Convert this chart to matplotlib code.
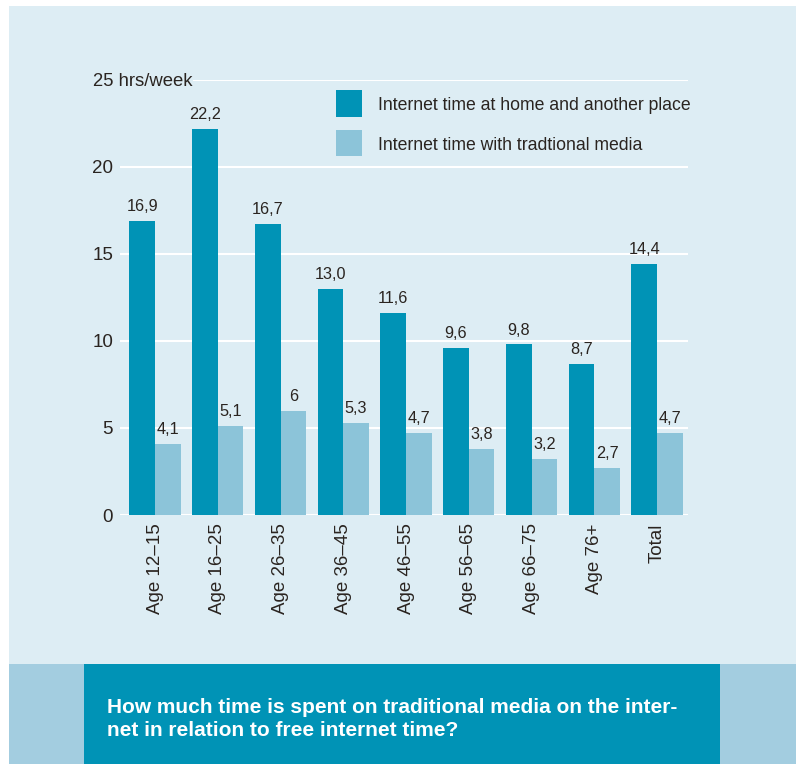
import numpy as np
import matplotlib
matplotlib.use('Agg')
import matplotlib.pyplot as plt
from matplotlib.patches import Rectangle

plt.rcParams['font.family'] = ['Liberation Sans', 'DejaVu Sans']

# data
groups = ['Age 12–15', 'Age 16–25', 'Age 26–35', 'Age 36–45', 'Age 46–55',
          'Age 56–65', 'Age 66–75', 'Age 76+', 'Total']
home_other = [16.9, 22.2, 16.7, 13.0, 11.6, 9.6, 9.8, 8.7, 14.4]
home_other_lbl = ['16,9', '22,2', '16,7', '13,0', '11,6', '9,6', '9,8', '8,7', '14,4']
trad_media = [4.1, 5.1, 6, 5.3, 4.7, 3.8, 3.2, 2.7, 4.7]
trad_media_lbl = ['4,1', '5,1', '6', '5,3', '4,7', '3,8', '3,2', '2,7', '4,7']
series_names = ['Internet time at home and another place',
                'Internet time with tradtional media']
title = ('How much time is spent on traditional media on the inter-\n'
         'net in relation to free internet time?')

W, H = 801, 764
c_dark = '#0093b6'
c_light = '#8cc4d9'
c_panel = '#ddedf4'
c_side = '#a3cde0'
c_text = '#2a2420'

fig = plt.figure(figsize=(W / 100, H / 100), dpi=100)
fig.patch.set_facecolor('white')

def px_rect(x0, y0, x1, y1, color):
    # rectangle in pixel coords (y from top)
    fig.add_artist(Rectangle((x0 / W, 1 - y1 / H), (x1 - x0) / W, (y1 - y0) / H,
                             transform=fig.transFigure, color=color, lw=0, zorder=0))

px_rect(9, 6, 796, 664, c_panel)
px_rect(9, 664, 84, 764, c_side)
px_rect(720, 664, 796, 764, c_side)
px_rect(84, 664, 720, 764, c_dark)

ax = fig.add_axes([120 / W, 1 - 515 / H, 568 / W, 435 / H])
ax.set_facecolor('none')
for s in ax.spines.values():
    s.set_visible(False)

x = np.arange(len(groups))
bw = 0.41
ax.set_xlim(-0.558, 8.494)
ax.set_ylim(0, 25)

for yv in [0, 5, 10, 15, 20]:
    ax.axhline(yv, color='white', lw=1.5, zorder=1)
ax.axhline(25, xmin=(194 - 120) / 568, color='white', lw=1.5, zorder=1)

b1 = ax.bar(x - bw / 2, home_other, bw, color=c_dark, zorder=2)
b2 = ax.bar(x + bw / 2, trad_media, bw, color=c_light, zorder=2)

for rect, lbl in zip(b1, home_other_lbl):
    ax.annotate(lbl, (rect.get_x() + rect.get_width() / 2, rect.get_height()),
                xytext=(0, 5), textcoords='offset points', ha='center', va='bottom',
                fontsize=11.7, color=c_text)
for rect, lbl in zip(b2, trad_media_lbl):
    ax.annotate(lbl, (rect.get_x() + rect.get_width() / 2, rect.get_height()),
                xytext=(0, 5), textcoords='offset points', ha='center', va='bottom',
                fontsize=11.7, color=c_text)

ax.set_yticks([0, 5, 10, 15, 20])
ax.set_yticklabels(['0', '5', '10', '15', '20'])
ax.tick_params(axis='y', length=0, pad=5, labelsize=13.5, labelcolor=c_text)
ax.set_xticks(x)
ax.set_xticklabels(groups, rotation=90, ha='center', va='top')
ax.tick_params(axis='x', length=0, pad=6, labelsize=13.5, labelcolor=c_text)

fig.text(93 / W, 1 - 81 / H, '25 hrs/week', ha='left', va='center',
         fontsize=13.3, color=c_text)

# legend
px_rect(336, 90, 362, 117, c_dark)
px_rect(336, 130, 362, 156, c_light)
fig.text(378 / W, 1 - 105 / H, series_names[0], ha='left', va='center',
         fontsize=12.7, color=c_text)
fig.text(378 / W, 1 - 145 / H, series_names[1], ha='left', va='center',
         fontsize=12.7, color=c_text)

fig.text(107 / W, 1 - 719 / H, title, ha='left', va='center', fontsize=15,
         fontweight='bold', color='white', linespacing=1.3)

fig.savefig('out.png', dpi=100)
